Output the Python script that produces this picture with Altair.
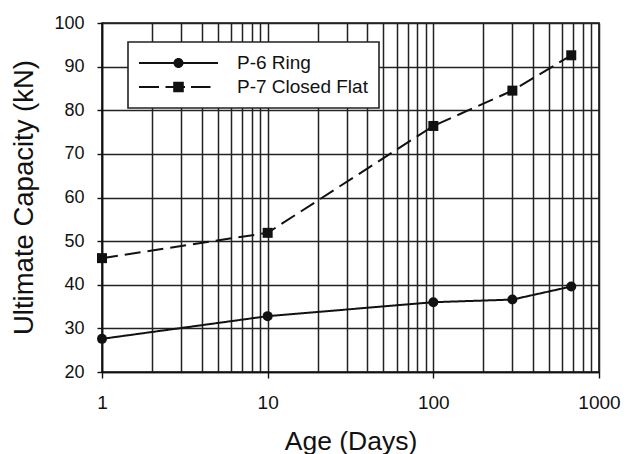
import altair as alt
import pandas as pd

# Test ages (days) and ultimate capacities (kN) for the two specimens
series_names = ["P-6 Ring", "P-7 Closed Flat"]
age_days = [1, 10, 100, 300, 680]
capacity_ring = [27.6, 32.8, 36.0, 36.6, 39.6]
capacity_flat = [46.1, 51.9, 76.4, 84.5, 92.6]

# Axis tick / grid values
x_grid_values = [m * 10 ** e for e in range(3) for m in range(1, 10)] + [1000]
x_major_values = [1, 10, 100, 1000]
y_tick_values = [20, 30, 40, 50, 60, 70, 80, 90, 100]

df = pd.DataFrame(
    {
        "age": age_days * 2,
        "capacity": capacity_ring + capacity_flat,
        "series": [series_names[0]] * len(age_days) + [series_names[1]] * len(age_days),
    }
)

FONT = "Liberation Sans"
INK = "#111111"
GRID = "#222222"

# Legend glyphs: a line with its marker, as filled paths.
# Symbol size 400 -> 10 px per path unit; the glyph starts at the entry's left edge (-1).
ring_glyph = (
    "M-1,-0.1L6.9,-0.1L6.9,0.1L-1,0.1Z"
    "M2.45,0A0.5,0.5 0 1,1 3.45,0A0.5,0.5 0 1,1 2.45,0Z"
)
flat_glyph = (
    "M-1,-0.1L1,-0.1L1,0.1L-1,0.1Z"
    "M1.65,-0.1L3.6,-0.1L3.6,0.1L1.65,0.1Z"
    "M4.2,-0.1L6.15,-0.1L6.15,0.1L4.2,0.1Z"
    "M2.42,-0.53L3.48,-0.53L3.48,0.53L2.42,0.53Z"
)

major_test = "indexof([1, 10, 100, 1000], datum.value) >= 0"

x_axis = alt.Axis(
    values=x_grid_values,
    format="d",
    labelExpr=f"{major_test} ? datum.label : ''",
    labelOverlap=False,
    labelFlush=False,
    labelBound=False,
    labelFont=FONT,
    labelFontSize=19,
    labelColor=INK,
    labelPadding=15,
    tickSize=6,
    tickWidth=1.4,
    tickColor=INK,
    tickOpacity={"condition": {"test": major_test, "value": 1}, "value": 0},
    grid=True,
    gridColor=GRID,
    gridWidth=1.5,
    domainColor=INK,
    domainWidth=1.6,
    title="Age (Days)",
    titleFont=FONT,
    titleFontSize=26.5,
    titleFontWeight="normal",
    titleColor=INK,
    titleBaseline="alphabetic",
    titleY=77,
)

y_axis = alt.Axis(
    values=y_tick_values,
    labelFont=FONT,
    labelFontSize=18,
    labelColor=INK,
    labelPadding=13,
    tickSize=5,
    tickWidth=1.4,
    tickColor=INK,
    grid=True,
    gridColor=GRID,
    gridWidth=1.5,
    domainColor=INK,
    domainWidth=1.6,
    title="Ultimate Capacity (kN)",
    titleFont=FONT,
    titleFontSize=27.5,
    titleFontWeight="normal",
    titleColor=INK,
    titleAngle=270,
    titleAlign="center",
    titleBaseline="alphabetic",
    titleX=-70,
    titleY=174,
)

x_enc = alt.X("age:Q", scale=alt.Scale(type="log", domain=[1, 1000], nice=False), axis=x_axis)
y_enc = alt.Y("capacity:Q", scale=alt.Scale(domain=[20, 100], nice=False, zero=False), axis=y_axis)

base = alt.Chart(df)

lines = base.mark_line(color=INK, strokeWidth=2).encode(
    x=x_enc,
    y=y_enc,
    strokeDash=alt.StrokeDash(
        "series:N",
        scale=alt.Scale(domain=series_names, range=[[1, 0], [16, 7]]),
        legend=None,
    ),
)

points = base.mark_point(filled=True, color=INK, opacity=1, size=100).encode(
    x=x_enc,
    y=y_enc,
    shape=alt.Shape(
        "series:N",
        scale=alt.Scale(domain=series_names, range=["circle", "square"]),
        legend=None,
    ),
)

# Invisible layer that only carries the legend
legend_layer = base.mark_point(filled=True, color=INK, opacity=0).encode(
    x=x_enc,
    y=y_enc,
    shape=alt.Shape(
        "series:N",
        scale=alt.Scale(domain=series_names, range=[ring_glyph, flat_glyph]),
        legend=alt.Legend(
            title=None,
            orient="none",
            legendX=26,
            legendY=19,
            padding=11,
            rowPadding=4,
            fillColor="white",
            strokeColor="#222222",
            symbolSize=400,
            symbolOpacity=1,
            symbolFillColor=INK,
            symbolStrokeWidth=0,
            labelFont=FONT,
            labelFontSize=19,
            labelColor=INK,
            labelOffset=78,
            labelLimit=300,
        ),
    ),
)

chart = (
    alt.layer(lines, points, legend_layer)
    .resolve_scale(shape="independent")
    .properties(
        width=497,
        height=349,
        autosize=alt.AutoSizeParams(type="none"),
        padding={"left": 102, "top": 23, "right": 27, "bottom": 82},
        background="white",
    )
    .configure_view(stroke=INK, strokeWidth=1.6)
    .configure_legend(strokeWidth=1.6)
)

chart.save("out.html", embed_options={"renderer": "svg", "actions": False})
